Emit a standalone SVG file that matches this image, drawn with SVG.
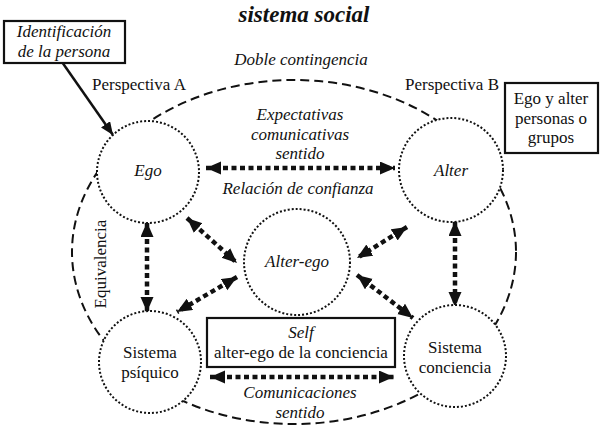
<svg xmlns="http://www.w3.org/2000/svg" width="600" height="430" viewBox="0 0 600 430">
<defs>
<style>
text{font-family:"Liberation Serif","DejaVu Serif",serif;font-size:17px;fill:#111;text-anchor:middle}
.it{font-style:italic}
.node{fill:#fff;stroke:#111;stroke-width:2;stroke-dasharray:2 2}
.box{fill:#fff;stroke:#111;stroke-width:2.2}
.rel{fill:none;stroke:#111;stroke-width:4.5;stroke-dasharray:5 3.5;marker-start:url(#ah);marker-end:url(#ah)}
</style>
<marker id="ah" markerUnits="userSpaceOnUse" markerWidth="16" markerHeight="14" refX="15" refY="6.5" orient="auto-start-reverse">
<path d="M0,0 L15,6.5 L0,13 z" fill="#111"/>
</marker>
<marker id="sa" markerUnits="userSpaceOnUse" markerWidth="14" markerHeight="12" refX="13" refY="5.5" orient="auto">
<path d="M0,0 L13,5.5 L0,11 z" fill="#111"/>
</marker>
</defs>
<rect width="600" height="430" fill="#fff"/>
<text x="304" y="22" style="font-size:23px;font-weight:bold;font-style:italic">sistema social</text>
<g id="sistema-social">
<ellipse cx="294" cy="252" rx="222" ry="172" fill="none" stroke="#111" stroke-width="2" stroke-dasharray="9 5"/>
<text class="it" x="301" y="65">Doble contingencia</text>
</g>
<g id="connectors">
<line x1="62" y1="62" x2="113" y2="135" stroke="#111" stroke-width="2.5" marker-end="url(#sa)"/>
<line class="rel" x1="206" y1="168" x2="395" y2="168"/>
<line class="rel" x1="210" y1="377" x2="394" y2="377"/>
<line class="rel" x1="147" y1="222" x2="147" y2="312"/>
<line class="rel" x1="455" y1="221" x2="455" y2="307"/>
<line class="rel" x1="187" y1="218" x2="237" y2="263"/>
<line class="rel" x1="237" y1="277" x2="177" y2="312"/>
<line class="rel" x1="407" y1="227" x2="357" y2="258"/>
<line class="rel" x1="357" y1="275" x2="413" y2="318"/>
</g>
<g id="labels">
<text class="it" x="300" y="120">Expectativas</text>
<text class="it" x="300" y="140">comunicativas</text>
<text class="it" x="300" y="159">sentido</text>
<text class="it" x="298" y="194">Relación de confianza</text>
<text class="it" x="300" y="398">Comunicaciones</text>
<text class="it" x="300" y="418">sentido</text>
<text x="139" y="90">Perspectiva A</text>
<text x="452" y="90">Perspectiva B</text>
<text x="0" y="0" transform="translate(106,264) rotate(-90)">Equivalencia</text>
</g>
<g id="identificacion">
<rect class="box" x="4" y="21" width="121" height="42"/>
<text class="it" x="64" y="37">Identificación</text>
<text class="it" x="64" y="57">de la persona</text>
</g>
<g id="ego-alter-box">
<rect class="box" x="505" y="83" width="93" height="70"/>
<text x="551" y="104">Ego y alter</text>
<text x="551" y="124">personas o</text>
<text x="551" y="143">grupos</text>
</g>
<g id="ego">
<circle class="node" cx="148" cy="172" r="51"/>
<text class="it" x="148" y="176">Ego</text>
</g>
<g id="alter">
<circle class="node" cx="451" cy="170" r="52"/>
<text class="it" x="451" y="176">Alter</text>
</g>
<g id="alter-ego">
<circle class="node" cx="297" cy="262" r="53"/>
<text class="it" x="297" y="267">Alter-ego</text>
</g>
<g id="sistema-psiquico">
<circle class="node" cx="150" cy="362" r="51"/>
<text x="150" y="358">Sistema</text>
<text x="150" y="378">psíquico</text>
</g>
<g id="sistema-conciencia">
<circle class="node" cx="455" cy="356" r="51"/>
<text x="455" y="353">Sistema</text>
<text x="455" y="373">conciencia</text>
</g>
<g id="self">
<rect class="box" x="207" y="318" width="188" height="49"/>
<text class="it" x="301" y="338">Self</text>
<text x="301" y="358">alter-ego de la conciencia</text>
</g>
</svg>
